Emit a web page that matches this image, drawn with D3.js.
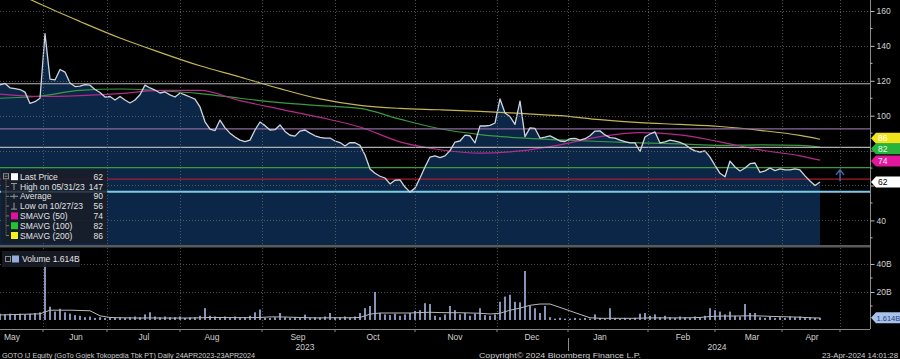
<!DOCTYPE html>
<html><head><meta charset="utf-8">
<script src="https://cdn.jsdelivr.net/npm/d3@7"></script>
<style>html,body{margin:0;padding:0;background:#000;overflow:hidden}svg{display:block}</style>
</head><body><svg id="c" width="900" height="359"></svg>
<script>
// ---------- DATA ----------
const price = [
117.6,118.5,116,115.5,115,113.5,107,108,110,147,121,120.5,126.5,125,118.7,116.7,117,117.8,117.5,115,
113.3,110.7,111,109,111,109,107.3,109,112,117.5,115.9,114.7,113,113.6,111.9,110.7,113,111.9,110.7,109.5,
105,96.5,92.3,91.5,97.5,93,90,87.8,86,85.2,86,91.8,96.4,94.3,91.8,92,94.7,91,88.8,88.3,
91.2,91.8,90,88.5,87.6,87.2,87.2,85.5,84.6,82.6,84.6,84.5,83,77.5,69.5,67,65.3,64.3,60.9,63,
63.2,59.1,56.2,58.5,64.3,70.6,76.3,77,76,77,80,84.9,85.5,88.9,88.5,84.4,94.2,94.1,94.5,95.8,
109.6,101.5,99.5,95,108.4,88,93,92.7,87.2,87.7,88.4,87,85.5,85.2,86.8,87,86,86.8,88.5,91.2,
91.3,89,87.4,87.2,86,85.1,84.4,84.4,79.5,87.8,89.5,90.7,84.4,85,86,85.4,84.7,83.5,81.3,79.8,
79.2,79.8,76.3,71.5,67,65,74,70.6,68.3,70,72.5,72.9,67.5,68.4,70,68.5,69.5,69,68.9,69.5,
68.9,65.5,62.6,60,62];
const volume = [ // billions of shares
4.5,4,4.5,4,4.5,4,4.5,5,5.5,45,9.5,6,8,5.5,4.5,3.5,3,2,2.5,1.5,
2,1.5,2,1.5,2,1.5,2,2.5,2,4,5.5,2.5,2,2.5,2,2,2.5,1.5,2,2,
3,8.5,3,2.5,2,2.5,2,2.5,2,2,3,5.5,7.5,1.5,1.5,2,5,2,1.5,2,
1.5,3.8,1.5,2,2,2.5,5,2,2,2.5,2,2.5,5,8.5,10,20,5,4,3.5,4.5,
3,4,5,6.5,7,12,11.4,3,2,4,10,7,4,5,3,4.5,8.4,3.5,3,4,
13,16.7,18,13,12.6,35,10,8.4,5,10,2,1,1.5,1,1,1.5,1,1.5,1,4,
1.5,1,8.4,1.5,1,1.5,1,1.5,4.5,5,3,4,2,3,2,1.5,2.5,2,1.5,2.5,
2,3,8.4,7,6,4,6,3,2.5,11.4,5,5,2,1.5,2.5,1.5,2,1.5,2.5,2,
2.5,2,2,1.5,1.614];
const volMA = [ // every second sample
3.6,3.8,4,4.2,4.4,7,7,7,6.8,6.6,3,1.8,1.6,1.5,1.4,1.5,1.4,1.4,1.4,1.4,
1.6,1.8,1.8,1.7,1.7,1.7,1.8,2.2,2.2,2.0,1.8,1.6,1.5,1.6,1.6,1.6,1.8,4.2,5,5,
5,5,5.3,5.5,5.3,5.2,5.2,5,4.8,4.3,4.8,7,8.5,10.5,11.4,11.4,9,6.5,4,1.6,
1.2,1.2,1.2,1.2,1.3,1.5,1.5,1.5,1.5,1.6,1.8,2.5,2.8,2.8,2.9,3,2.9,2.6,2.4,2.2,
2,1.6,1.4];
const maIndex = [0,8,16,24,32,40,48,56,64,72,80,88,96,104,112,120,128,136,144,152,160,164];
const sma50  = [112.4,111,111.5,112.6,114.5,114.5,108.6,103.8,99,93.5,85,80.5,78.5,79.8,83.3,88,90.3,89,85,80.4,77,74.5];
const sma100 = [110,111.3,114.5,115.3,114.3,112.7,110,107.5,105.8,104.2,98,92.5,89.2,87.3,86.2,85.2,84.4,83.8,83,83.3,83,82];
const sma200 = [175,164,154,144.5,136.3,128.6,122.2,115.5,109.6,105.9,104.2,103.4,102.5,101.3,100,97.7,96,95,93.8,91.6,88.7,86.5];
const monthLabels = ["May","Jun","Jul","Aug","Sep","Oct","Nov","Dec","Jan","Feb","Mar","Apr"];
const monthLabelPos = [2.4,15.2,28.8,42.4,59.6,74.6,91,106.4,120,136.6,150.4,162.4];
const monthStarts = [8.6,21.4,36,52.4,67,83,99.4,113.6,129.6,143,156.4,168];
const yearLabels = ["2023","2024"];
const yearPos = [61,143.4];
const yearBreaks = [113.6];
const refLevels = [118.3,92.4,81.9,70.2,63.6,56.4];
const refColors = ["#b8b8b8","#8a6a9e","#b0b0b0","#3c9c3c","#a81c30","#7ccbe6"];
const priceTicks = [40,60,80,100,120,140,160];
const priceTickLabels = [40,100,120,140,160]; // 60 and 80 sit under the last-value tags
const priceMinor = [30,50,70,90,110,130,150];
const volTicks = [20,40];
const legendNames = ["Last Price","High on 05/31/23","Average","Low on 10/27/23","SMAVG (50)","SMAVG (100)","SMAVG (200)"];
const legendValues = ["62","147","90","56","74","82","86"];
const lastTags = [{v:86,t:"86",bg:"#f2e41c",fg:"#fff"},{v:82,t:"82",bg:"#27b43c",fg:"#eafce8"},{v:74,t:"74",bg:"#e2189a",fg:"#ffe6f6"},{v:62,t:"62",bg:"#ffffff",fg:"#000"}];
const lastVolume = 1.614;
const eventIdx = 168, eventLow = 62.5, eventHigh = 69;

// ---------- CHART ----------
const svg = d3.select("#c");
const F = "'Liberation Sans', Arial, sans-serif";
const AX = 870;
svg.append("rect").attr("width",900).attr("height",359).attr("fill","#000");
const x  = d3.scaleLinear().domain([0,164]).range([0,820]);
const yP = d3.scaleLinear().domain([25.9,166.3]).range([245,0]);
const yV = d3.scaleLinear().domain([0,51.4]).range([320,248]);

const defs = svg.append("defs");
defs.append("clipPath").attr("id","cp").append("rect").attr("x",0).attr("y",0).attr("width",AX).attr("height",245);

const gP = svg.append("g").attr("clip-path","url(#cp)");
gP.append("path").datum(price)
  .attr("d", d3.area().x((d,i)=>x(i)).y0(245).y1(d=>yP(d)))
  .attr("fill","#0b2646");

// grids
const grid = svg.append("g").attr("stroke","#6a6a6a").attr("stroke-dasharray","1,2").attr("stroke-width",1).attr("opacity",0.75);
priceTicks.forEach(t=>grid.append("line").attr("x1",0).attr("x2",AX).attr("y1",Math.round(yP(t))+0.5).attr("y2",Math.round(yP(t))+0.5));
volTicks.forEach(t=>grid.append("line").attr("x1",0).attr("x2",AX).attr("y1",Math.round(yV(t))+0.5).attr("y2",Math.round(yV(t))+0.5));
monthStarts.filter(m=>x(m)>0 && x(m)<AX).forEach(m=>{
  const xx = Math.round(x(m))+0.5;
  grid.append("line").attr("x1",xx).attr("x2",xx).attr("y1",0).attr("y2",245);
  grid.append("line").attr("x1",xx).attr("x2",xx).attr("y1",248).attr("y2",329);
});

// moving averages
const maLine = d3.line().x((d,i)=>x(maIndex[i])).y(d=>yP(d)).curve(d3.curveMonotoneX);
[[sma200,"#c4b552"],[sma100,"#3a9a40"],[sma50,"#b42a8c"]].forEach(([s,c])=>{
  gP.append("path").datum(s).attr("d",maLine).attr("fill","none").attr("stroke",c).attr("stroke-width",1.2);
});

// reference levels
refLevels.forEach((v,i)=>{
  gP.append("line").attr("x1",0).attr("x2",AX).attr("y1",yP(v)).attr("y2",yP(v))
    .attr("stroke",refColors[i]).attr("stroke-width",i===refLevels.length-1?2:1.2);
});

// price line
gP.append("path").datum(price)
  .attr("d", d3.line().x((d,i)=>x(i)).y(d=>yP(d)))
  .attr("fill","none").attr("stroke","#cfd5df").attr("stroke-width",1.3).attr("stroke-linejoin","round");

// event arrow
const ex = x(eventIdx);
svg.append("path").attr("d",`M${ex},${yP(eventLow)}V${yP(eventHigh)}M${ex-4},${yP(eventHigh)+5}L${ex},${yP(eventHigh)}L${ex+4},${yP(eventHigh)+5}`)
  .attr("fill","none").attr("stroke","#4a72b8").attr("stroke-width",1.3);

// panel separator
svg.append("rect").attr("x",0).attr("y",245).attr("width",AX).attr("height",2.5).attr("fill","#5a5a5a");

// volume
svg.append("g").selectAll("rect").data(volume).join("rect")
  .attr("x",(d,i)=>x(i)-0.8).attr("width",1.6)
  .attr("y",d=>yV(d)).attr("height",d=>yV(0)-yV(d))
  .attr("fill","#a9b9e6");
svg.append("path").datum(volMA)
  .attr("d", d3.line().x((d,i)=>x(i*2)).y(d=>yV(d)))
  .attr("fill","none").attr("stroke","#b8b8b8").attr("stroke-width",1);

// axes lines
svg.append("line").attr("x1",AX+0.5).attr("x2",AX+0.5).attr("y1",0).attr("y2",329).attr("stroke","#8a8a8a");
svg.append("line").attr("x1",0).attr("x2",AX).attr("y1",329.5).attr("y2",329.5).attr("stroke","#8a8a8a");

// right price axis
const ga = svg.append("g").attr("transform",`translate(${AX+0.5},0)`);
ga.call(d3.axisRight(yP).tickValues(priceTicks).tickSize(4).tickFormat(d=>priceTickLabels.includes(d)?d3.format("d")(d):""));
ga.call(g=>g.select(".domain").remove());
ga.selectAll("line").attr("stroke","#bbb");
ga.selectAll("text").attr("fill","#d0d0d0").attr("font-family",F).attr("font-size",8.5).attr("x",6);
priceMinor.forEach(t=>ga.append("line").attr("x1",0).attr("x2",2).attr("y1",yP(t)).attr("y2",yP(t)).attr("stroke","#bbb"));

// right volume axis
const gv = svg.append("g").attr("transform",`translate(${AX+0.5},0)`);
gv.call(d3.axisRight(yV).tickValues(volTicks).tickSize(4).tickFormat(d=>d+"B"));
gv.call(g=>g.select(".domain").remove());
gv.selectAll("line").attr("stroke","#bbb");
gv.selectAll("text").attr("fill","#d0d0d0").attr("font-family",F).attr("font-size",8.5).attr("x",6);
[10,30].forEach(t=>gv.append("line").attr("x1",0).attr("x2",2).attr("y1",yV(t)).attr("y2",yV(t)).attr("stroke","#bbb"));

// last-value tags
const tags = lastTags.map(d=>({...d, y:yP(d.v)}));
for(let k=0;k<3;k++){ for(let i=1;i<tags.length;i++){ const gap=tags[i].y-tags[i-1].y; if(gap<10.5){const s=(10.5-gap)/2; tags[i-1].y-=s; tags[i].y+=s;} } }
function tag(y,bg,fg,t,fs,tx){
  svg.append("path").attr("d",`M${AX+1},${y}L${AX+6},${y-5.5}H900V${y+5.5}H${AX+6}Z`).attr("fill",bg);
  svg.append("text").attr("x",tx||AX+8).attr("y",y+3).attr("fill",fg).attr("font-family",F).attr("font-size",fs||8.5).text(t);
}
tags.forEach(d=>tag(d.y,d.bg,d.fg,d.t));
tag(yV(lastVolume),"#a8c2ea","#1d3f78",lastVolume+"B",7.5,AX+6.5);

// bottom axis
const gb = svg.append("g");
monthStarts.filter(m=>x(m)>0 && x(m)<AX).forEach(m=>{
  gb.append("line").attr("x1",x(m)).attr("x2",x(m)).attr("y1",329).attr("y2",332).attr("stroke","#8a8a8a");
});
monthLabels.forEach((m,i)=>{
  gb.append("text").attr("x",x(monthLabelPos[i])).attr("y",339.5)
    .attr("text-anchor","middle").attr("fill","#d0d0d0").attr("font-family",F).attr("font-size",8.5).text(m);
});
yearLabels.forEach((y,i)=>{
  gb.append("text").attr("x",x(yearPos[i])).attr("y",349.5)
    .attr("text-anchor","middle").attr("fill","#d0d0d0").attr("font-family",F).attr("font-size",8.5).text(y);
});
yearBreaks.forEach(b=>gb.append("line").attr("x1",Math.round(x(b))+0.5).attr("x2",Math.round(x(b))+0.5).attr("y1",338).attr("y2",351).attr("stroke","#8a8a8a"));

// footer
function foot(xx,t,len,anchor){
  svg.append("text").attr("x",xx).attr("y",358).attr("fill","#cfcfcf").attr("font-family",F).attr("font-size",8)
    .attr("text-anchor",anchor||"start").attr("textLength",len).attr("lengthAdjust","spacingAndGlyphs").text(t);
}
foot(2,"GOTO IJ Equity (GoTo Gojek Tokopedia Tbk PT)  Daily  24APR2023-23APR2024",253);
foot(479,"Copyright\u00A9 2024 Bloomberg Finance L.P.",162);
foot(822,"23-Apr-2024 14:01:28",76);

// price legend
const lg = svg.append("g");
lg.append("rect").attr("x",1).attr("y",169).attr("width",106).attr("height",74).attr("fill","rgba(24,28,38,0.82)");
const rowY = i=>176.7+9.8*i;
lg.append("rect").attr("x",3.5).attr("y",rowY(0)-3).attr("width",5).attr("height",5).attr("fill","none").attr("stroke","#8a8a8a");
lg.append("line").attr("x1",4.5).attr("x2",7.5).attr("y1",rowY(0)-0.5).attr("y2",rowY(0)-0.5).attr("stroke","#8a8a8a");
lg.append("line").attr("x1",6).attr("x2",6).attr("y1",rowY(0)+3).attr("y2",rowY(6)).attr("stroke","#777").attr("stroke-dasharray","1,1");
const sq = ["#ffffff",null,null,null,"#e0129c","#22c232","#f2f21e"];
legendNames.forEach((n,i)=>{
  const y = rowY(i);
  if(i>0) lg.append("line").attr("x1",6).attr("x2",9).attr("y1",y).attr("y2",y).attr("stroke","#777");
  if(sq[i]) lg.append("rect").attr("x",11).attr("y",y-3.5).attr("width",7).attr("height",7).attr("fill",sq[i]);
  lg.append("text").attr("x",20).attr("y",y+3).attr("fill","#e2e2e2").attr("font-family",F).attr("font-size",8.5).text(n);
  lg.append("text").attr("x",103).attr("y",y+3).attr("text-anchor","end").attr("fill","#e2e2e2").attr("font-family",F).attr("font-size",8.5).text(legendValues[i]);
});
const sym = lg.append("g").attr("stroke","#999").attr("fill","none");
sym.append("path").attr("d",`M11,${rowY(1)-3}H17M14,${rowY(1)-3}V${rowY(1)+3.5}`);
sym.append("path").attr("d",`M10,${rowY(2)}H18M14,${rowY(2)-2.5}V${rowY(2)+2.5}`);
sym.append("path").attr("d",`M14,${rowY(3)-3.5}V${rowY(3)+3}M11,${rowY(3)+3}H17`);

// volume legend
const vl = svg.append("g");
vl.append("rect").attr("x",2).attr("y",251).attr("width",78).attr("height",16).attr("fill","rgba(24,28,38,0.9)");
vl.append("rect").attr("x",5.5).attr("y",256.5).attr("width",5).attr("height",5).attr("fill","none").attr("stroke","#8a8a8a");
vl.append("rect").attr("x",12).attr("y",255.5).attr("width",7).attr("height",7).attr("fill","#93acdc");
vl.append("text").attr("x",22).attr("y",262).attr("fill","#e2e2e2").attr("font-family",F).attr("font-size",8.5).text("Volume "+lastVolume+"B");
</script></body></html>
